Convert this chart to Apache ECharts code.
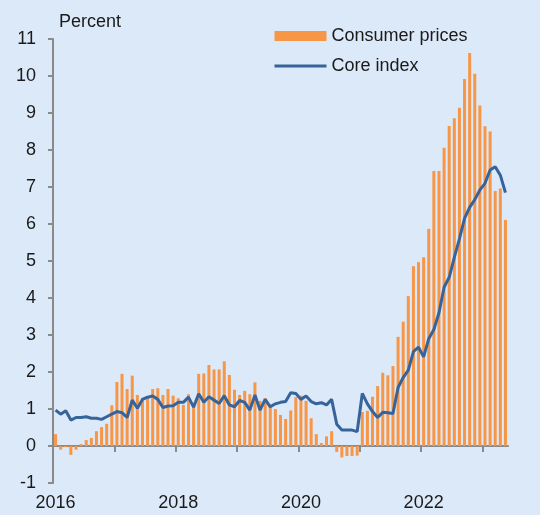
<!DOCTYPE html>
<html>
<head>
<meta charset="utf-8">
<script src="https://cdn.jsdelivr.net/npm/echarts@6/dist/echarts.min.js"></script>
<style>
  html, body { margin: 0; padding: 0; background: #dce9f8; }
  #chart { width: 540px; height: 515px; }
</style>
</head>
<body>
<div id="chart"></div>
<script>
  // months Jan 2016 - May 2023
  const years = [2016, 2017, 2018, 2019, 2020, 2021, 2022, 2023];
  const months = [];
  years.forEach(y => {
    for (let m = 1; m <= 12; m++) {
      if (y === 2023 && m > 5) break;
      months.push(y + '-' + (m < 10 ? '0' + m : m));
    }
  });

  // consumer prices, 12-month change, percent
  const consumerPrices = [
    0.32, -0.1, -0.03, -0.24, -0.1, 0.05, 0.16, 0.22, 0.4, 0.51, 0.6, 1.1,
    1.73, 1.95, 1.54, 1.9, 1.38, 1.3, 1.3, 1.54, 1.56, 1.38, 1.54, 1.36,
    1.29, 1.11, 1.4, 1.1, 1.95, 1.96, 2.19, 2.07, 2.07, 2.29, 1.92, 1.52,
    1.38, 1.49, 1.4, 1.72, 1.22, 1.29, 1.11, 1.0, 0.84, 0.73, 0.96, 1.32,
    1.36, 1.22, 0.75, 0.32, 0.08, 0.26, 0.4, -0.16, -0.31, -0.27, -0.27, -0.26,
    0.92, 0.95, 1.33, 1.62, 1.98, 1.91, 2.16, 2.95, 3.36, 4.05, 4.86, 4.97,
    5.1, 5.87, 7.43, 7.43, 8.06, 8.65, 8.86, 9.14, 9.92, 10.62, 10.06, 9.2,
    8.64, 8.5, 6.89, 6.96, 6.11
  ];

  // core index, percent
  const coreIndex = [
    0.97, 0.86, 0.95, 0.7, 0.77, 0.77, 0.79, 0.75, 0.75, 0.72, 0.79, 0.86,
    0.93, 0.9, 0.77, 1.24, 1.02, 1.26, 1.32, 1.35, 1.26, 1.04, 1.08, 1.09,
    1.18, 1.18, 1.32, 1.05, 1.41, 1.18, 1.33, 1.24, 1.15, 1.36, 1.11, 1.06,
    1.23, 1.18, 0.97, 1.38, 0.97, 1.26, 1.06, 1.14, 1.18, 1.2, 1.44, 1.42,
    1.26, 1.35, 1.2, 1.14, 1.17, 1.11, 1.26, 0.59, 0.43, 0.43, 0.43, 0.39,
    1.42, 1.14, 0.93, 0.77, 0.91, 0.9, 0.88, 1.58, 1.85, 2.05, 2.55, 2.67,
    2.41, 2.9, 3.15, 3.6, 4.29, 4.56, 5.1, 5.6, 6.15, 6.45, 6.66, 6.92,
    7.1, 7.46, 7.55, 7.32, 6.85
  ];

  const yTicks = { min: -1, max: 11, step: 1 };

  const font = '"Liberation Sans", Arial, sans-serif';
  const axisGray = '#8a8a8a';

  // plot box
  const chartW = 540, chartH = 515;
  const gLeft = 53, gRight = 32, gTop = 39, gBottom = 32;
  const plotW = chartW - gLeft - gRight;
  const plotH = chartH - gTop - gBottom;
  const monthW = plotW / months.length;
  // yearly ticks: Jan 2016 .. Jan 2023
  const tickMonths = 84;
  // y pixel of the zero line
  const zeroY = gTop + plotH * yTicks.max / (yTicks.max - yTicks.min);

  const myChart = echarts.init(document.getElementById('chart'));
  const option = {
    backgroundColor: '#dce9f8',
    animation: false,
    textStyle: { fontFamily: font },
    grid: [
      { left: gLeft, right: gRight, top: gTop, bottom: gBottom },
      // helper grid only for the yearly ticks hanging below the zero line
      { left: gLeft, width: monthW * tickMonths, top: 0, bottom: chartH - zeroY }
    ],
    legend: {
      orient: 'vertical',
      left: 268,
      top: 22,
      itemWidth: 52,
      itemHeight: 10,
      itemGap: 12,
      lineStyle: { width: 3 },
      textStyle: { fontSize: 18, color: '#1a1a1a', fontFamily: font },
      data: [
        { name: 'Consumer prices', icon: 'rect' },
        { name: 'Core index', itemStyle: { opacity: 0 } }
      ]
    },
    graphic: [{
      type: 'text',
      left: 59,
      top: 13,
      style: { text: 'Percent', font: '18px ' + font, fill: '#1a1a1a' }
    }],
    xAxis: [{
      type: 'category',
      gridIndex: 0,
      data: months,
      boundaryGap: true,
      axisLine: { onZero: true, lineStyle: { color: axisGray, width: 2 } },
      axisTick: { show: false },
      axisLabel: { show: false },
      splitLine: { show: false }
    }, {
      type: 'category',
      gridIndex: 0,
      data: months,
      position: 'bottom',
      boundaryGap: true,
      axisLine: { show: false, onZero: false },
      axisTick: { show: false },
      axisLabel: {
        interval: 23,
        margin: 11,
        fontSize: 18,
        color: '#1a1a1a',
        formatter: v => v.slice(0, 4)
      },
      splitLine: { show: false }
    }, {
      type: 'value',
      gridIndex: 1,
      min: 0,
      max: tickMonths,
      interval: 12,
      axisLine: { show: false, onZero: false },
      axisTick: { show: true, length: 6, lineStyle: { color: axisGray, width: 2 } },
      axisLabel: { show: false },
      splitLine: { show: false }
    }],
    yAxis: [{
      type: 'value',
      gridIndex: 0,
      min: yTicks.min,
      max: yTicks.max,
      interval: yTicks.step,
      axisLine: { show: true, lineStyle: { color: axisGray, width: 2 } },
      axisTick: { show: true, length: 5, lineStyle: { color: axisGray, width: 2 } },
      axisLabel: { fontSize: 18, color: '#1a1a1a', margin: 17 },
      splitLine: { show: false }
    }, {
      type: 'value',
      gridIndex: 1,
      show: false
    }],
    series: [{
      name: 'Consumer prices',
      type: 'bar',
      xAxisIndex: 0,
      yAxisIndex: 0,
      barWidth: 3,
      itemStyle: { color: '#f79646' },
      data: consumerPrices
    }, {
      name: 'Core index',
      type: 'line',
      xAxisIndex: 0,
      yAxisIndex: 0,
      symbol: 'none',
      lineStyle: { color: '#36649a', width: 3 },
      itemStyle: { color: '#36649a' },
      data: coreIndex
    }]
  };
  myChart.setOption(option);
</script>
</body>
</html>
